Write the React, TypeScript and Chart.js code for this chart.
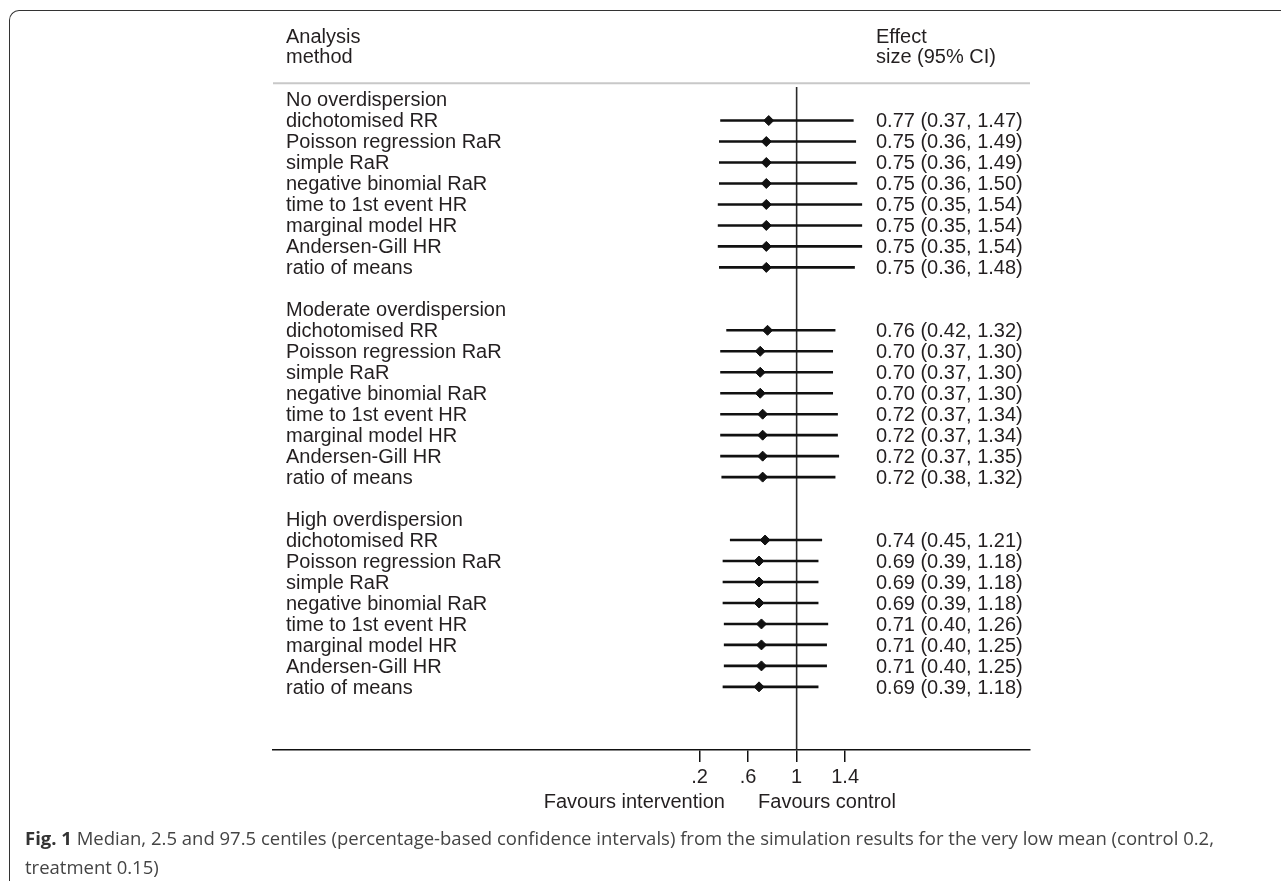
import React, { useEffect, useRef } from "react";
import { Chart, registerables } from "chart.js";

Chart.register(...registerables);

// ---------- data ----------
const groups = ["No overdispersion", "Moderate overdispersion", "High overdispersion"];
const methods = [
  "dichotomised RR",
  "Poisson regression RaR",
  "simple RaR",
  "negative binomial RaR",
  "time to 1st event HR",
  "marginal model HR",
  "Andersen-Gill HR",
  "ratio of means",
];
const estNone = [0.77, 0.75, 0.75, 0.75, 0.75, 0.75, 0.75, 0.75];
const loNone = [0.37, 0.36, 0.36, 0.36, 0.35, 0.35, 0.35, 0.36];
const hiNone = [1.47, 1.49, 1.49, 1.5, 1.54, 1.54, 1.54, 1.48];
const estModerate = [0.76, 0.7, 0.7, 0.7, 0.72, 0.72, 0.72, 0.72];
const loModerate = [0.42, 0.37, 0.37, 0.37, 0.37, 0.37, 0.37, 0.38];
const hiModerate = [1.32, 1.3, 1.3, 1.3, 1.34, 1.34, 1.35, 1.32];
const estHigh = [0.74, 0.69, 0.69, 0.69, 0.71, 0.71, 0.71, 0.69];
const loHigh = [0.45, 0.39, 0.39, 0.39, 0.4, 0.4, 0.4, 0.39];
const hiHigh = [1.21, 1.18, 1.18, 1.18, 1.26, 1.25, 1.25, 1.18];
const tickValues = [0.2, 0.6, 1, 1.4];
const tickLabels = [".2", ".6", "1", "1.4"];
const headerLeft = ["Analysis", "method"];
const headerRight = ["Effect", "size (95% CI)"];
const favourLeft = "Favours intervention";
const favourRight = "Favours control";
const nullValue = 1;

const FONT = '"Liberation Sans", Arial, Helvetica, sans-serif';
const TEXT = "#231f20";

const groupSeries = [
  { est: estNone, lo: loNone, hi: hiNone },
  { est: estModerate, lo: loModerate, hi: hiModerate },
  { est: estHigh, lo: loHigh, hi: hiHigh },
];

type Row = { y: number; est: number; lo: number; hi: number; label: string };
const rows: Row[] = [];
groupSeries.forEach((g, gi) => {
  methods.forEach((m, mi) => {
    rows.push({ y: gi * 10 + 1 + mi, est: g.est[mi], lo: g.lo[mi], hi: g.hi[mi], label: m });
  });
});

const Y_MIN = -0.6;
const Y_MAX = 31.01;

const textPlugin = {
  id: "forestText",
  afterDatasetsDraw(chart: any) {
    const { ctx, chartArea, scales } = chart;
    const xs = scales.x;
    const ys = scales.y;
    const leftX = chartArea.left + 13;
    const rightX = xs.getPixelForValue(1.654);
    const base = (v: number) => ys.getPixelForValue(v) + 6.8;
    ctx.save();
    // header separator
    ctx.strokeStyle = "#c8c8c8";
    ctx.lineWidth = 2;
    ctx.beginPath();
    const sy = ys.getPixelForValue(-0.78);
    ctx.moveTo(chartArea.left, sy);
    ctx.lineTo(chartArea.right, sy);
    ctx.stroke();

    ctx.fillStyle = TEXT;
    ctx.font = `20px ${FONT}`;
    ctx.textBaseline = "alphabetic";
    ctx.textAlign = "left";
    ctx.fillText(headerLeft[0], leftX, base(-3.0));
    ctx.fillText(headerLeft[1], leftX, base(-2.05));
    ctx.fillText(headerRight[0], rightX, base(-3.0));
    ctx.fillText(headerRight[1], rightX, base(-2.05));

    groups.forEach((g, gi) => ctx.fillText(g, leftX, base(gi * 10)));
    rows.forEach((r) => {
      ctx.fillText(r.label, leftX, base(r.y));
      ctx.fillText(
        `${r.est.toFixed(2)} (${r.lo.toFixed(2)}, ${r.hi.toFixed(2)})`,
        rightX,
        base(r.y)
      );
    });

    // favours labels
    const fy = chartArea.bottom + 58;
    ctx.textAlign = "right";
    ctx.fillText(favourLeft, xs.getPixelForValue(0.409), fy);
    ctx.textAlign = "left";
    ctx.fillText(favourRight, xs.getPixelForValue(0.682), fy);
    ctx.restore();
  },
};

function ForestChart() {
  const ref = useRef<HTMLCanvasElement | null>(null);
  useEffect(() => {
    if (!ref.current) return;
    const datasets: any[] = [];
    // reference line at null value
    datasets.push({
      type: "line",
      data: [
        { x: nullValue, y: Y_MIN },
        { x: nullValue, y: Y_MAX },
      ],
      borderColor: "#2a2a2a",
      borderWidth: 1.6,
      pointRadius: 0,
      order: 3,
    });
    rows.forEach((r) => {
      datasets.push({
        type: "line",
        data: [
          { x: r.lo, y: r.y },
          { x: r.hi, y: r.y },
        ],
        borderColor: "#111",
        borderWidth: 2.6,
        pointRadius: 0,
        order: 2,
      });
    });
    datasets.push({
      type: "scatter",
      data: rows.map((r) => ({ x: r.est, y: r.y })),
      pointStyle: "rectRot",
      pointRadius: 5,
      backgroundColor: "#111",
      borderColor: "#111",
      borderWidth: 1,
      order: 1,
    });

    const chart = new Chart(ref.current, {
      type: "scatter",
      data: { datasets },
      options: {
        animation: false,
        responsive: false,
        devicePixelRatio: 1,
        layout: { padding: { left: 273, right: 251, top: 87, bottom: 71 } },
        plugins: { legend: { display: false }, tooltip: { enabled: false }, title: { display: false } },
        scales: {
          x: {
            type: "linear",
            min: -3.317,
            max: 2.924,
            afterBuildTicks: (scale: any) => {
              scale.ticks = tickValues.map((v) => ({ value: v }));
            },
            afterFit: (scale: any) => {
              scale.height = 60;
            },
            ticks: {
              autoSkip: false,
              maxRotation: 0,
              padding: 3,
              color: TEXT,
              font: { family: FONT, size: 20 },
              callback: (v: any) => {
                const i = tickValues.findIndex((t) => Math.abs(t - v) < 1e-9);
                return i >= 0 ? tickLabels[i] : "";
              },
            },
            grid: {
              drawOnChartArea: false,
              drawTicks: true,
              tickLength: 12,
              color: "#111",
              lineWidth: 1.5,
            },
            border: { display: true, color: "#111", width: 1.5 },
          },
          y: {
            type: "linear",
            display: false,
            reverse: true,
            min: Y_MIN,
            max: Y_MAX,
          },
        },
      },
      plugins: [textPlugin],
    } as any);
    return () => chart.destroy();
  }, []);
  return <canvas ref={ref} width={1281} height={881} style={{ display: "block" }} />;
}

export default function App() {
  return (
    <div style={{ position: "absolute", left: 0, top: 0, width: 1281, height: 881, overflow: "hidden", background: "#fff" }}>
      <div
        style={{
          position: "absolute",
          left: 9,
          top: 10,
          width: 1400,
          height: 1000,
          borderTop: "1.5px solid #333",
          borderLeft: "1.5px solid #333",
          borderTopLeftRadius: 10,
        }}
      />
      <div style={{ position: "absolute", left: 0, top: 0 }}>
        <ForestChart />
      </div>
      <div
        style={{
          position: "absolute",
          left: 25,
          top: 823,
          whiteSpace: "nowrap",
          fontFamily: '"Open Sans", "Noto Sans", sans-serif',
          fontSize: 18.5,
          lineHeight: "29px",
          color: "#444",
        }}
      >
        <b style={{ color: "#333" }}>Fig. 1</b> Median, 2.5 and 97.5 centiles (percentage-based confidence intervals) from the simulation results for the very low mean (control 0.2,
        <br />
        treatment 0.15)
      </div>
    </div>
  );
}
